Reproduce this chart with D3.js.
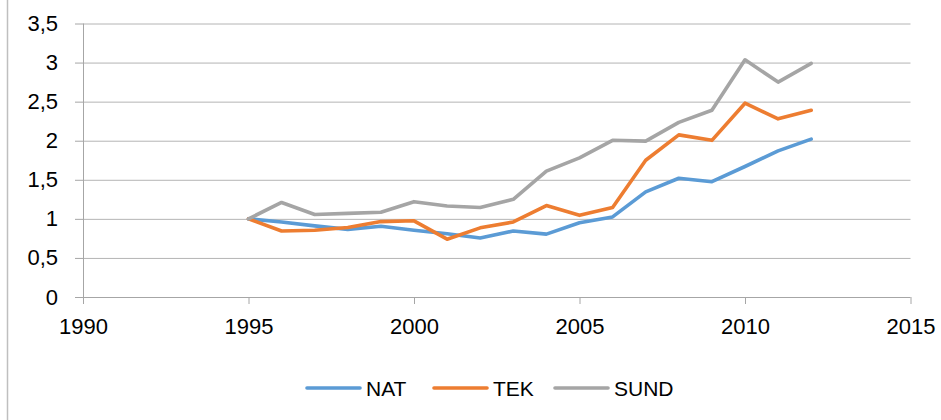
<!DOCTYPE html>
<html>
<head>
<meta charset="utf-8">
<script src="https://cdnjs.cloudflare.com/ajax/libs/d3/7.8.5/d3.min.js"></script>
<style>
  body { margin: 0; background: #fff; }
  text { font-family: "Liberation Sans", Arial, sans-serif; fill: #000; }
  .axis path, .axis line { stroke: #a6a6a6; }
  .grid line { stroke: #b4b4b4; }
  .grid path { stroke: none; }
  .series { fill: none; stroke-width: 3.6; stroke-linejoin: round; stroke-linecap: round; }
</style>
</head>
<body>
<div id="chart"></div>
<script>
// data
var years = [1995, 1996, 1997, 1998, 1999, 2000, 2001, 2002, 2003, 2004, 2005, 2006, 2007, 2008, 2009, 2010, 2011, 2012];
var nat  = [1.0, 0.96, 0.91, 0.865, 0.905, 0.855, 0.81, 0.755, 0.845, 0.805, 0.95, 1.025, 1.345, 1.52, 1.475, 1.67, 1.87, 2.02];
var tek  = [1.0, 0.845, 0.855, 0.89, 0.965, 0.975, 0.74, 0.885, 0.96, 1.17, 1.045, 1.145, 1.75, 2.075, 2.005, 2.48, 2.28, 2.39];
var sund = [1.0, 1.21, 1.055, 1.07, 1.085, 1.22, 1.165, 1.145, 1.25, 1.61, 1.78, 2.005, 1.995, 2.235, 2.39, 3.035, 2.75, 2.99];
var xTicks = [1990, 1995, 2000, 2005, 2010, 2015];
var yTicks = [0, 0.5, 1, 1.5, 2, 2.5, 3, 3.5];
var seriesNames = ["NAT", "TEK", "SUND"];
var seriesColors = ["#5b9bd5", "#ed7d31", "#a5a5a5"];

var W = 941, H = 420;
var margin = {top: 23.5, right: 30.5, bottom: 123, left: 83}
  , width = W - margin.left - margin.right
  , height = H - margin.top - margin.bottom;

var xScale = d3.scaleLinear().domain([1990, 2015]).range([0, width]);
var yScale = d3.scaleLinear().domain([0, 3.5]).range([height, 0]);

var fmt = function(d) { return String(d).replace(".", ","); };

var root = d3.select("#chart").append("svg")
  .attr("width", W)
  .attr("height", H);

// outer frame edge on the left
root.append("line")
  .attr("x1", 7.5).attr("x2", 7.5)
  .attr("y1", 0).attr("y2", H)
  .attr("stroke", "#bfbfbf")
  .attr("stroke-width", 1.5);

var svg = root.append("g")
  .attr("transform", "translate(" + margin.left + "," + margin.top + ")");

// horizontal gridlines
svg.append("g")
  .attr("class", "grid")
  .call(d3.axisLeft(yScale)
    .tickValues(yTicks.slice(1))
    .tickSize(-width)
    .tickFormat("")
  );

// y axis
var yAxis = svg.append("g")
  .attr("class", "y axis")
  .call(d3.axisLeft(yScale).tickValues(yTicks).tickSize(8).tickPadding(17).tickFormat(fmt));
yAxis.select(".domain").attr("d", "M0.5," + height + "V0");
yAxis.selectAll("text").style("font-size", "22px");

// x axis
var xAxis = svg.append("g")
  .attr("class", "x axis")
  .attr("transform", "translate(0," + height + ")")
  .call(d3.axisBottom(xScale).tickValues(xTicks).tickSize(7).tickPadding(14).tickFormat(d3.format("d")));
xAxis.select(".domain").attr("d", "M0," + 0.5 + "H" + width);
xAxis.selectAll("text").style("font-size", "22px");

// lines
var line = d3.line()
  .x(function(d) { return xScale(d.x); })
  .y(function(d) { return yScale(d.y); });

[nat, tek, sund].forEach(function(vals, k) {
  var dataset = years.map(function(yr, i) { return {"x": yr, "y": vals[i]}; });
  svg.append("path")
    .datum(dataset)
    .attr("class", "series")
    .attr("stroke", seriesColors[k])
    .attr("d", line);
});

// legend
var legendX = [307, 434, 555];
var legend = root.append("g").attr("transform", "translate(0,388)");
seriesNames.forEach(function(name, k) {
  legend.append("line")
    .attr("x1", legendX[k]).attr("x2", legendX[k] + 53)
    .attr("y1", 0).attr("y2", 0)
    .attr("stroke", seriesColors[k])
    .attr("stroke-width", 3.6)
    .attr("stroke-linecap", "round");
  legend.append("text")
    .attr("x", legendX[k] + 59)
    .attr("y", 0)
    .attr("dy", "0.36em")
    .style("font-size", "21px")
    .text(name);
});
</script>
</body>
</html>
